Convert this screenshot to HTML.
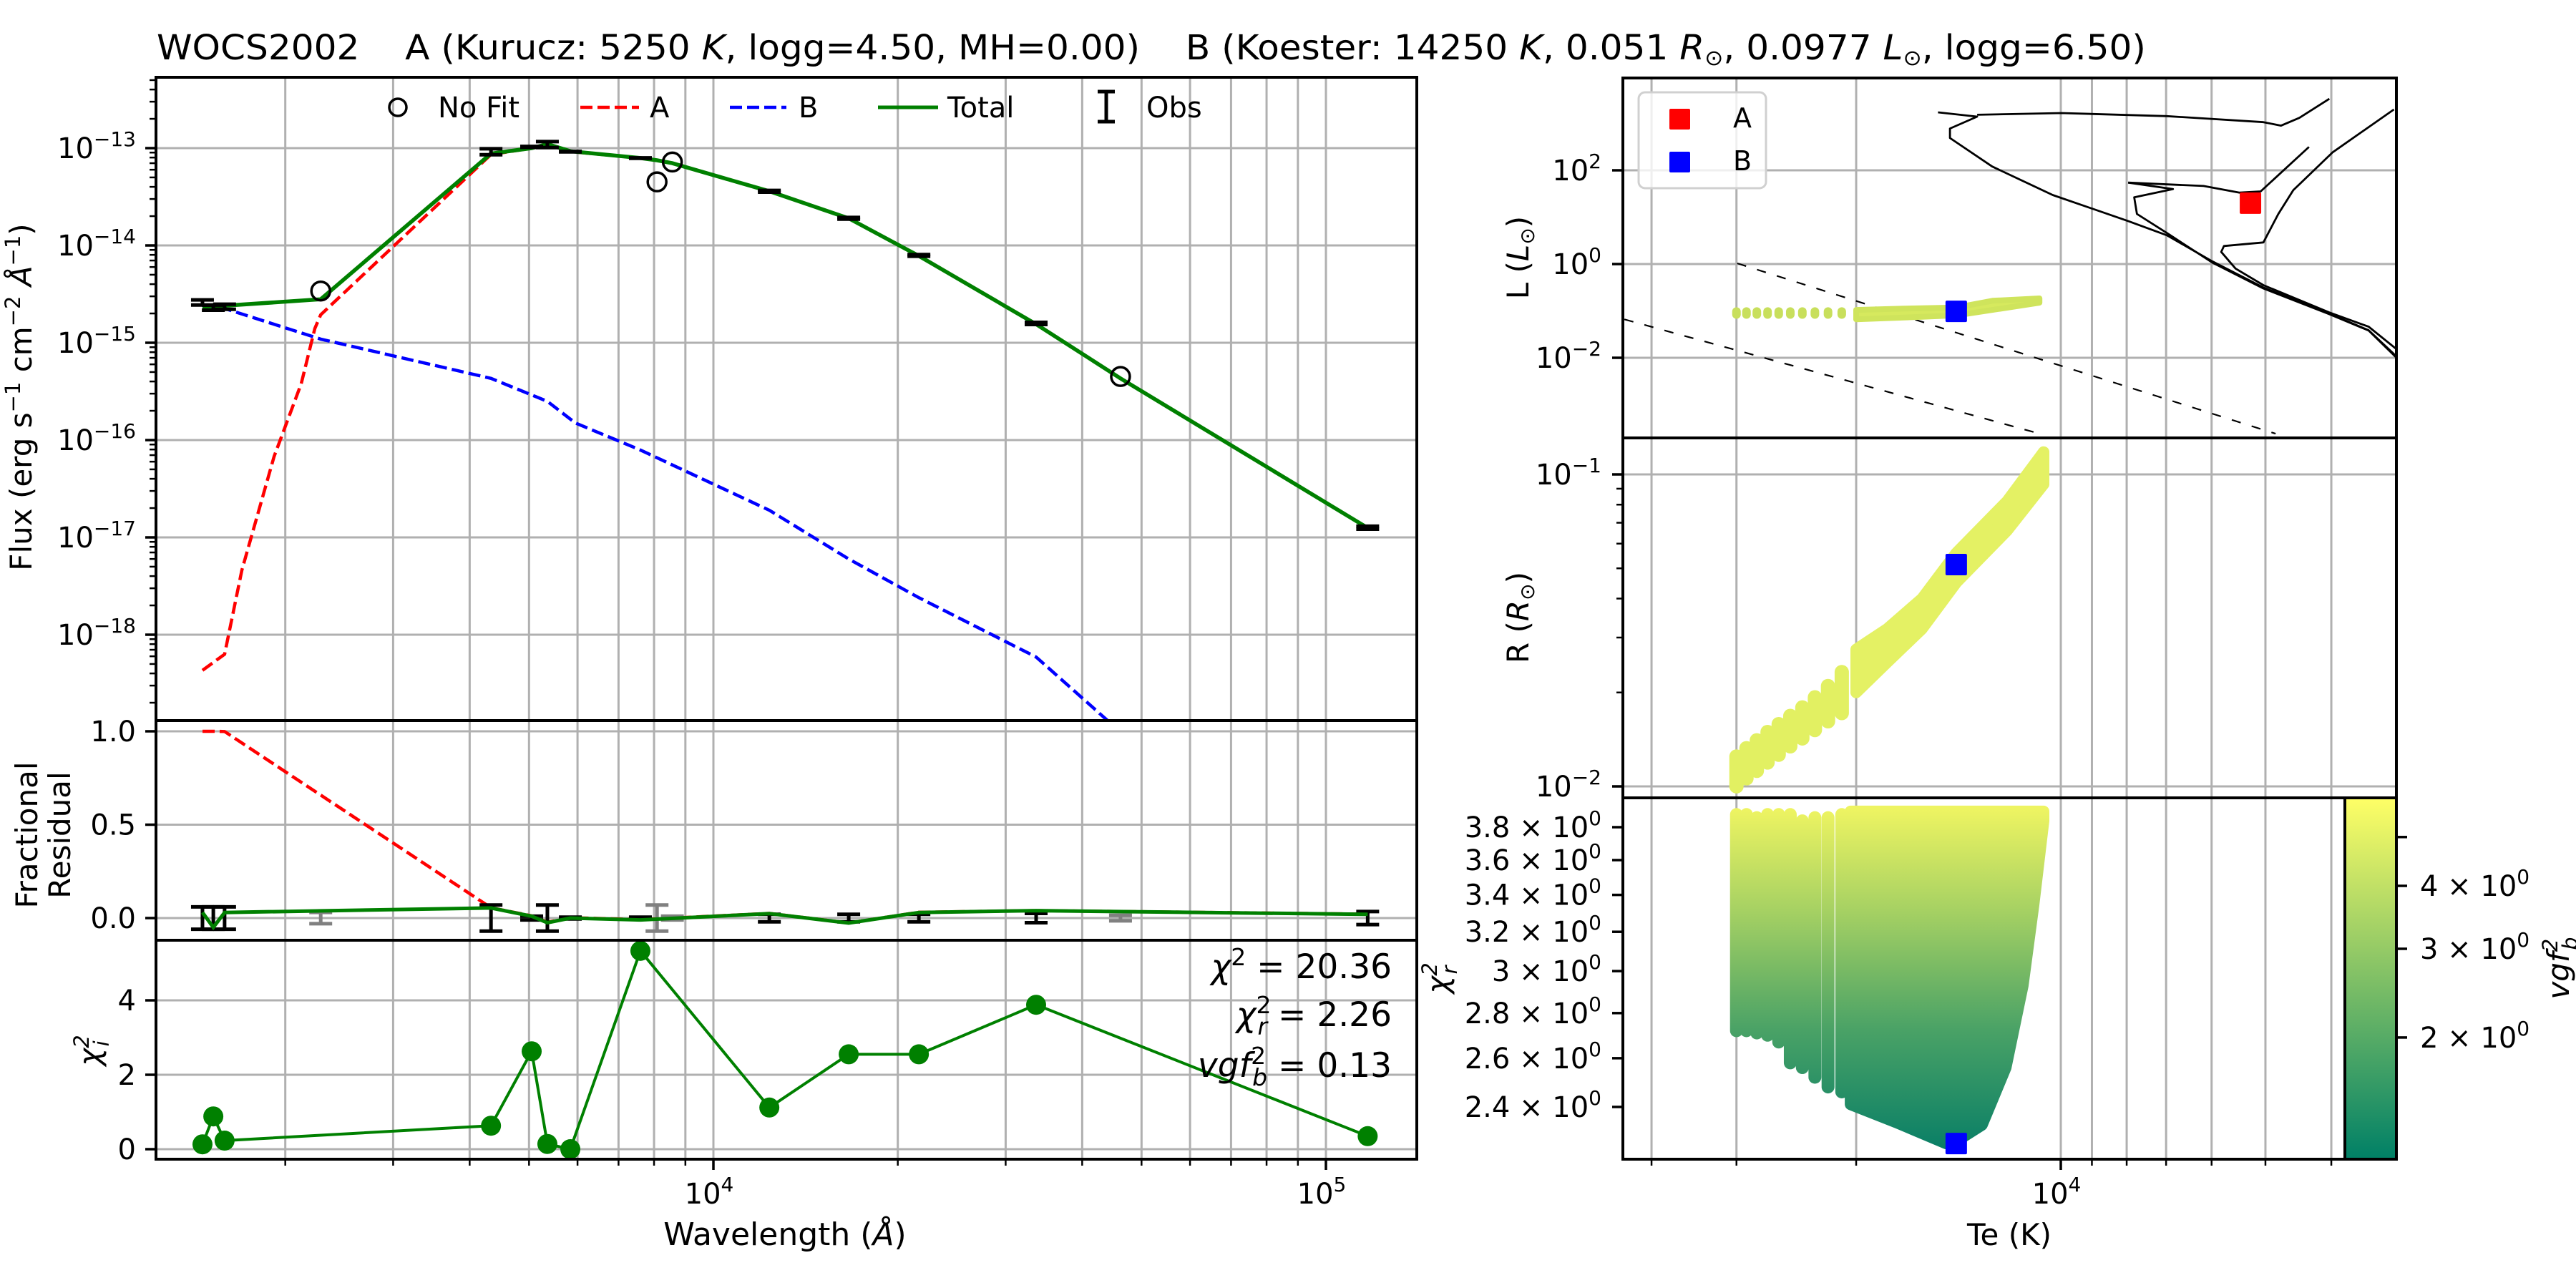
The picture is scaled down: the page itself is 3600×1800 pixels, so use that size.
<!DOCTYPE html>
<html><head><meta charset="utf-8"><title>WOCS2002 SED fit</title>
<style>
html,body{margin:0;padding:0;background:#fff;}
svg{display:block;font-family:"DejaVu Sans","Liberation Sans",sans-serif;}
text{fill:#000;}
</style></head>
<body>
<svg id="fig" width="3600" height="1800" viewBox="0 0 3600 1800" xmlns="http://www.w3.org/2000/svg">
<defs>
<clipPath id="cTop"><rect x="218" y="108" width="1762" height="899"/></clipPath>
<clipPath id="cRes"><rect x="218" y="1007" width="1762" height="307"/></clipPath>
<clipPath id="cChi"><rect x="218" y="1314" width="1762" height="306"/></clipPath>
<clipPath id="cL"><rect x="2268" y="109" width="1081" height="503"/></clipPath>
<clipPath id="cR"><rect x="2268" y="612" width="1081" height="503"/></clipPath>
<clipPath id="cC"><rect x="2268" y="1115" width="1008" height="505"/></clipPath>
<linearGradient id="cmapV" x1="0" y1="1" x2="0" y2="0">
<stop offset="0" stop-color="#008066"/><stop offset="0.5" stop-color="#80c066"/><stop offset="1" stop-color="#ffff66"/>
</linearGradient>
<linearGradient id="chiGrad" gradientUnits="userSpaceOnUse" x1="0" y1="1605" x2="0" y2="1130">
<stop offset="0" stop-color="#0a7f66"/><stop offset="0.35" stop-color="#4aa266"/><stop offset="0.7" stop-color="#a6d163"/><stop offset="1" stop-color="#eef462"/>
</linearGradient>
</defs>
<text x="219" y="83" font-size="48" style="white-space:pre" xml:space="preserve" textLength="2780" lengthAdjust="spacingAndGlyphs">WOCS2002    A (Kurucz: 5250 <tspan font-style="italic">K</tspan>, logg=4.50, MH=0.00)    B (Koester: 14250 <tspan font-style="italic">K</tspan>, 0.051 <tspan font-style="italic">R</tspan><tspan font-size="30" dy="8">⊙</tspan><tspan dy="-8">, 0.0977 </tspan><tspan font-style="italic">L</tspan><tspan font-size="30" dy="8">⊙</tspan><tspan dy="-8">, logg=6.50)</tspan></text>
</svg>
<script>
// ===== SED data (left panels) =====
const obsWave = [1465,1526,1592,4334,5050,5357,5840,7600,12340,16630,21650,33640,117000];
const obsFlux = [2.6e-15,2.3e-15,2.35e-15,9.2e-14,1.03e-13,1.09e-13,9.2e-14,7.9e-14,3.6e-14,1.9e-14,7.9e-15,1.58e-15,1.26e-17];
const obsErr = [0.06,0.06,0.06,0.07,0.01,0.07,0.005,0.005,0.02,0.02,0.02,0.025,0.035];
const noFitWave = [2285,8090,8570,46200];
const noFitFlux = [3.4e-15,4.5e-14,7.2e-14,4.5e-16];
const noFitErr = [0.03,0.07,0.01,0.015];
const totWave = [1465,1526,1592,2285,4334,5050,5357,5840,7600,8090,8570,12340,16630,21650,33640,46200,117000];
const totFlux = [2.35e-15,2.37e-15,2.4e-15,2.8e-15,8.8e-14,1.0e-13,1.1e-13,9.3e-14,7.9e-14,7.5e-14,7.0e-14,3.6e-14,1.9e-14,7.8e-15,1.55e-15,4.3e-16,1.25e-17];
const aWave = [1465,1592,1699,1918,2124,2235,2285,4334,5050,5357,5840,7600,8090,8570,12340,16630,21650,33640,46200,117000];
const aFlux = [4.3e-19,6.3e-19,4.6e-18,6.8e-17,3.8e-16,1.4e-15,1.94e-15,8.6e-14,1.0e-13,1.09e-13,9.2e-14,7.9e-14,7.5e-14,7.0e-14,3.6e-14,1.9e-14,7.8e-15,1.55e-15,4.3e-16,1.25e-17];
const bWave = [1465,1592,2285,4334,5357,5950,7600,12340,16630,21650,33640,46200,117000];
const bFlux = [2.4e-15,2.25e-15,1.09e-15,4.3e-16,2.5e-16,1.5e-16,7.9e-17,1.9e-17,6.0e-18,2.4e-18,5.9e-19,1.0e-19,4e-21];
const resTotal = [0.03,-0.05,0.03,0.054,0.01,-0.025,0.0,-0.01,0.024,-0.027,0.03,0.04,0.02];
const resA = [1.0,1.0,0.999,0.055,0.012,-0.022,0.002,-0.008,0.025,-0.026,0.031,0.04,0.021];
const chiVals = [0.13,0.88,0.23,0.63,2.63,0.14,0.0,5.33,1.12,2.55,2.55,3.88,0.35];
const fluxTickExp = [-13,-14,-15,-16,-17,-18];
const resTicks = [1.0,0.5,0.0];
const resTickLabels = ['1.0','0.5','0.0'];
const chiTicks = [0,2,4];
const waveMajor = [1e4,1e5];
const waveMajorExp = ['4','5'];
const waveMinor = [2000,3000,4000,5000,6000,7000,8000,9000,20000,30000,40000,50000,60000,70000,80000,90000];

// ===== HR / fit data (right panels) =====
const teGrid = [40000,30000,20000,10000,9000,8000,7000,6000,5000,4000];
const lTickExp = [2,0,-2];
const rTickExp = [-1,-2];
const rMinor = [0.02,0.03,0.04,0.05,0.06,0.07,0.08,0.09];
const chiRTicks = [2.4,2.6,2.8,3.0,3.2,3.4,3.6,3.8];
const chiRTickLabels = ['2.4','2.6','2.8','3','3.2','3.4','3.6','3.8'];
const cbTicks = [2,3,4,5];
const cbTickLabels = ['2','3','4',''];
const colT = [30000,29000,28000,27000,26000,25000,24000,23000,22000,21000];
const colChiLo = [2.72,2.72,2.71,2.70,2.67,2.58,2.56,2.52,2.48,2.46];
const colChiHi = [3.88,3.88,3.86,3.88,3.88,3.88,3.84,3.86,3.86,3.88];
const colRLo = [0.0099,0.0105,0.0111,0.0118,0.0125,0.0133,0.0141,0.0150,0.0160,0.0170];
const colRHi = [0.0126,0.0134,0.0142,0.0151,0.0160,0.0170,0.0181,0.0195,0.0212,0.0235];
const colLLo = [0.068,0.068,0.068,0.068,0.068,0.068,0.068,0.068,0.068,0.068];
const colLHi = [0.12,0.12,0.12,0.12,0.12,0.12,0.12,0.12,0.12,0.12];
const bandT = [20000,17000,14250,12600,10750];
const bandLLo = [0.066,0.072,0.080,0.105,0.150];
const bandLHi = [0.105,0.112,0.118,0.165,0.185];
const bandRT = [20000,18000,16000,14250,12000,10600];
const bandRLo = [0.020,0.025,0.032,0.045,0.066,0.093];
const bandRHi = [0.0275,0.032,0.040,0.056,0.082,0.118];
const chiBandT = [20390,17470,14740,14320,13060,12050,11370,10960,10600];
const chiBandLo = [2.41,2.34,2.26,2.265,2.33,2.56,2.93,3.35,3.84];
const chiBandTopT = [20390,10600];
const chiBandTop = [3.90,3.90];
const starA = {T:5260, L:19.95};
const starB = {T:14250, L:0.0977, R:0.0514, chi:2.26};
const iso1LogT = [3.499,3.510,3.547,3.605,3.702,3.777,3.844,3.901,4.012,4.101,4.163,4.163,4.123,4.1806];
const iso1LogL = [-2.12,-1.919,-1.413,-1.058,-0.501,0.056,0.613,0.917,1.474,2.081,2.689,2.892,3.145,3.236];
const iso1bLogT = [4.123,3.999,3.844,3.702,3.676,3.649,3.605];
const iso1bLogL = [3.185,3.221,3.155,3.028,2.952,3.119,3.525];
const iso2LogT = [3.901,3.835,3.892,3.888,3.844,3.777,3.702,3.605,3.547,3.499];
const iso2LogL = [1.737,1.600,1.423,1.069,0.663,0.03,-0.52,-1.07,-1.42,-2.1];
const iso2bLogT = [3.901,3.790,3.737,3.706,3.635];
const iso2bLogL = [1.737,1.666,1.524,1.550,2.497];
const iso3LogT = [3.510,3.600,3.658,3.680,3.702,3.760,3.764,3.743,3.702,3.605,3.547,3.499];
const iso3LogL = [3.297,2.385,1.575,1.069,0.461,0.385,0.258,-0.096,-0.451,-1.033,-1.337,-1.9];
const radLine1LogT = [4.476,3.684];
const radLine1LogL = [0.015,-3.62];
const radLine2LogT = [4.642,4.036];
const radLine2LogL = [-1.18,-3.60];

// ===== scales =====
const lg = Math.log10;
function lx(w){return 997+856*lg(w/1e4);}
function fy(f){return 207-136*(lg(f)+13);}
function ry(r){return 1283-261*r;}
function cy(c){return 1606-52*c;}
function tx(T){return 2880-950*lg(T/1e4);}
function txLog(t){return 2880-950*(t-4);}
function Ly(L){return 238-65.5*(lg(L)-2);}
function LyLog(l){return 238-65.5*(l-2);}
function Ry(R){return 663-436*(lg(R)+1);}
function Cy(c){return 1156-1959*(lg(c)-lg(3.8));}
function cby(v){return 1238-704*lg(v/4);}

const NS='http://www.w3.org/2000/svg';
const svg=document.getElementById('fig');
function mk(tag,attrs,parent){const e=document.createElementNS(NS,tag);for(const k in attrs)e.setAttribute(k,attrs[k]);(parent||svg).appendChild(e);return e;}
function grp(name,clip){const g=mk('g',clip?{'clip-path':'url(#'+clip+')'}:{});return g;}
function pow(parent,x,y,base,exp,anchor,fs){
  const t=mk('text',{x:x,y:y,'font-size':fs||40,'text-anchor':anchor||'end'},parent);
  t.appendChild(document.createTextNode(base));
  const s=mk('tspan',{'font-size':Math.round((fs||40)*0.7),dy:-17},t);
  s.textContent=exp;
  return t;
}
const GRID='#b0b0b0';

// ---------- LEFT: grids ----------
const gGrid=grp('left-gridlines');
[...waveMinor,...waveMajor].forEach(w=>{
  const l=mk('line',{x1:lx(w),x2:lx(w),y1:108,y2:1620,stroke:GRID,'stroke-width':3},gGrid);
  
  
});
fluxTickExp.forEach(e=>{
  const l=mk('line',{x1:218,x2:1980,y1:fy(Math.pow(10,e)),y2:fy(Math.pow(10,e)),stroke:GRID,'stroke-width':3},gGrid);
  
  
});
resTicks.forEach(r=>{
  const l=mk('line',{x1:218,x2:1980,y1:ry(r),y2:ry(r),stroke:GRID,'stroke-width':3},gGrid);
  
  
});
chiTicks.forEach(c=>{
  const l=mk('line',{x1:218,x2:1980,y1:cy(c),y2:cy(c),stroke:GRID,'stroke-width':3},gGrid);
  
  
});

// ---------- LEFT: flux panel ----------
const gTop=grp('flux-panel-series','cTop');
function pts(xs,ys,fx,fyy){return xs.map((v,i)=>fx(v).toFixed(1)+','+fyy(ys[i]).toFixed(1)).join(' ');}
const lineA=mk('polyline',{points:pts(aWave,aFlux,lx,fy),fill:'none',stroke:'#ff0000','stroke-width':4.5,'stroke-dasharray':'17,7'},gTop);


const lineB=mk('polyline',{points:pts(bWave,bFlux,lx,fy),fill:'none',stroke:'#0000ff','stroke-width':4.5,'stroke-dasharray':'17,7'},gTop);


const lineT=mk('polyline',{points:pts(totWave,totFlux,lx,fy),fill:'none',stroke:'#008000','stroke-width':5.5},gTop);


obsWave.forEach((w,i)=>{
  const x=lx(w),y1=fy(obsFlux[i]*(1+obsErr[i])),y2=fy(obsFlux[i]*(1-obsErr[i]));
  const g=mk('g',{stroke:'#000','stroke-width':5},gTop);
  
  
  mk('line',{x1:x,x2:x,y1:y1,y2:y2},g);
  mk('line',{x1:x-16,x2:x+16,y1:y1,y2:y1},g);
  mk('line',{x1:x-16,x2:x+16,y1:y2,y2:y2},g);
});
noFitWave.forEach((w,i)=>{
  const c=mk('circle',{cx:lx(w),cy:fy(noFitFlux[i]),r:13,fill:'none',stroke:'#000','stroke-width':3.5},gTop);
  
  
});

// ---------- LEFT: residual panel ----------
const gRes=grp('residual-panel-series','cRes');
const rA=mk('polyline',{points:pts(obsWave,resA,lx,ry),fill:'none',stroke:'#ff0000','stroke-width':4.5,'stroke-dasharray':'17,7'},gRes);


obsWave.forEach((w,i)=>{
  const x=lx(w),y1=ry(obsErr[i]),y2=ry(-obsErr[i]);
  const g=mk('g',{stroke:'#000','stroke-width':5},gRes);
  
  
  mk('line',{x1:x,x2:x,y1:y1,y2:y2},g);
  mk('line',{x1:x-16,x2:x+16,y1:y1,y2:y1},g);
  mk('line',{x1:x-16,x2:x+16,y1:y2,y2:y2},g);
});
noFitWave.forEach((w,i)=>{
  const x=lx(w),y1=ry(noFitErr[i]),y2=ry(-noFitErr[i]);
  const g=mk('g',{stroke:'#808080','stroke-width':5},gRes);
  
  
  mk('line',{x1:x,x2:x,y1:y1,y2:y2},g);
  mk('line',{x1:x-16,x2:x+16,y1:y1,y2:y1},g);
  mk('line',{x1:x-16,x2:x+16,y1:y2,y2:y2},g);
});
const rT=mk('polyline',{points:pts(obsWave,resTotal,lx,ry),fill:'none',stroke:'#008000','stroke-width':5},gRes);



// ---------- LEFT: chi panel ----------
const gChi=grp('chi-panel-series','cChi');
const cl=mk('polyline',{points:pts(obsWave,chiVals,lx,cy),fill:'none',stroke:'#008000','stroke-width':4},gChi);


obsWave.forEach((w,i)=>{
  const c=mk('circle',{cx:lx(w),cy:cy(chiVals[i]),r:14,fill:'#008000'},gChi);
  
  
});

// ---------- LEFT: spines / ticks / labels ----------
const gAx=grp('left-axes');
[[108,1007],[1007,1314],[1314,1620]].forEach(p=>{
  const r=mk('rect',{x:218,y:p[0],width:1762,height:p[1]-p[0],fill:'none',stroke:'#000','stroke-width':4},gAx);
  
  
});
for(let d=-19;d<=-13;d++){for(let m=2;m<=9;m++){const y=fy(m*Math.pow(10,d));if(y>108&&y<1007){
  const t=mk('line',{x1:209,x2:218,y1:y,y2:y,stroke:'#000','stroke-width':2.5},gAx);
  
  
}}}
fluxTickExp.forEach(e=>{
  const y=fy(Math.pow(10,e));
  const t=mk('line',{x1:203,x2:218,y1:y,y2:y,stroke:'#000','stroke-width':3.5},gAx);
  
  
  const lb=pow(gAx,190,y+14,'10','−'+(-e),'end',40);
  
  
});
resTicks.forEach((r,i)=>{
  const y=ry(r);
  const t=mk('line',{x1:203,x2:218,y1:y,y2:y,stroke:'#000','stroke-width':3.5},gAx);
  
  
  const lb=mk('text',{x:190,y:y+14,'font-size':40,'text-anchor':'end'},gAx);
  lb.textContent=resTickLabels[i];
  
  
});
chiTicks.forEach(c=>{
  const y=cy(c);
  const t=mk('line',{x1:203,x2:218,y1:y,y2:y,stroke:'#000','stroke-width':3.5},gAx);
  
  
  const lb=mk('text',{x:190,y:y+14,'font-size':40,'text-anchor':'end'},gAx);
  lb.textContent=String(c);
  
  
});
waveMinor.forEach(w=>{
  const t=mk('line',{x1:lx(w),x2:lx(w),y1:1620,y2:1629,stroke:'#000','stroke-width':2.5},gAx);
  
  
});
waveMajor.forEach((w,i)=>{
  const t=mk('line',{x1:lx(w),x2:lx(w),y1:1620,y2:1635,stroke:'#000','stroke-width':3.5},gAx);
  
  
  const lb=pow(gAx,lx(w)-6,1682,'10',waveMajorExp[i],'middle',40);
  
  
});
</script>
<script>
// static labels (left)
(function(){
const svg=document.getElementById('fig');
svg.insertAdjacentHTML('beforeend',`
<text x="1097" y="1740" font-size="44" text-anchor="middle">Wavelength (<tspan font-style="italic">Å</tspan>)</text>
<text transform="translate(44,555) rotate(-90)" font-size="42" text-anchor="middle">Flux (erg s<tspan font-size="29" dy="-16">−1</tspan><tspan dy="16"> cm</tspan><tspan font-size="29" dy="-16">−2</tspan><tspan dy="16"> </tspan><tspan font-style="italic">Å</tspan><tspan font-size="29" dy="-16">−1</tspan><tspan dy="16">)</tspan></text>
<text transform="translate(52,1167) rotate(-90)" font-size="42" text-anchor="middle">Fractional</text>
<text transform="translate(98,1167) rotate(-90)" font-size="42" text-anchor="middle">Residual</text>
<text transform="translate(140,1468) rotate(-90)" font-size="42" text-anchor="middle" font-style="italic">χ<tspan font-size="29" dy="-16">2</tspan><tspan font-size="29" dx="-16" dy="28">i</tspan></text>
<text x="1945" y="1367" font-size="47" text-anchor="end"><tspan font-style="italic">χ</tspan><tspan font-size="33" dy="-18">2</tspan><tspan dy="18"> = 20.36</tspan></text>
<text x="1945" y="1434" font-size="47" text-anchor="end"><tspan font-style="italic">χ</tspan><tspan font-size="33" dy="-18">2</tspan><tspan font-size="33" font-style="italic" dx="-19" dy="30">r</tspan><tspan dy="-12"> = 2.26</tspan></text>
<text x="1945" y="1505" font-size="47" text-anchor="end"><tspan font-style="italic">vgf</tspan><tspan font-size="33" dy="-18">2</tspan><tspan font-size="33" font-style="italic" dx="-19" dy="30">b</tspan><tspan dy="-12"> = 0.13</tspan></text>
<g>
 <circle cx="556" cy="150" r="12" fill="none" stroke="#000" stroke-width="3.5"/>
 <text x="612" y="164" font-size="40">No Fit</text>
 <line x1="811" x2="893" y1="150" y2="150" stroke="#f00" stroke-width="4.5" stroke-dasharray="17,7"/>
 <text x="908" y="164" font-size="40">A</text>
 <line x1="1020" x2="1099" y1="150" y2="150" stroke="#00f" stroke-width="4.5" stroke-dasharray="17,7"/>
 <text x="1116" y="164" font-size="40">B</text>
 <line x1="1227" x2="1311" y1="150" y2="150" stroke="#008000" stroke-width="5"/>
 <text x="1324" y="164" font-size="40">Total</text>
 <g stroke="#000" stroke-width="5"><line x1="1546" x2="1546" y1="128" y2="170"/><line x1="1534" x2="1558" y1="128" y2="128"/><line x1="1534" x2="1558" y1="170" y2="170"/></g>
 <text x="1602" y="164" font-size="40">Obs</text>
</g>`);
})();
</script>
<script>
// ---------- RIGHT panels ----------
(function(){
const svg=document.getElementById('fig');
const NS='http://www.w3.org/2000/svg';
function mk(tag,attrs,parent){const e=document.createElementNS(NS,tag);for(const k in attrs)e.setAttribute(k,attrs[k]);(parent||svg).appendChild(e);return e;}
function grp(name,clip){const g=mk('g',clip?{'clip-path':'url(#'+clip+')'}:{});return g;}
function pow(parent,x,y,pre,exp,anchor,fs){const t=mk('text',{x:x,y:y,'font-size':fs,'text-anchor':anchor},parent);t.appendChild(document.createTextNode(pre));const s=mk('tspan',{'font-size':Math.round(fs*0.7),dy:-17},t);s.textContent=exp;return t;}
const GRID='#b0b0b0';
const gG=grp('right-gridlines');
teGrid.forEach(T=>{
  const x=tx(T);
  const l=mk('line',{x1:x,x2:x,y1:109,y2:1620,stroke:GRID,'stroke-width':3},gG);
  
  
});
lTickExp.forEach(e=>{
  const y=Ly(Math.pow(10,e));
  const l=mk('line',{x1:2268,x2:3349,y1:y,y2:y,stroke:GRID,'stroke-width':3},gG);
  
  
});
rTickExp.forEach(e=>{
  const y=Ry(Math.pow(10,e));
  const l=mk('line',{x1:2268,x2:3349,y1:y,y2:y,stroke:GRID,'stroke-width':3},gG);
  
  
});

// L panel
const gL=grp('hr-panel-series','cL');
function poly(lt,ll,dash,g,name){
  const p=mk('polyline',{points:lt.map((t,i)=>txLog(t).toFixed(1)+','+LyLog(ll[i]).toFixed(1)).join(' '),fill:'none',stroke:'#000','stroke-width':dash?2.2:2.8,'stroke-dasharray':dash?'13,16':'none','stroke-linejoin':'round'},g);
  
  
}
poly(radLine1LogT,radLine1LogL,true,gL,'constant-radius-line');
poly(radLine2LogT,radLine2LogL,true,gL,'constant-radius-line');
poly(iso1LogT,iso1LogL,false,gL,'isochrone-track');
poly(iso1bLogT,iso1bLogL,false,gL,'isochrone-track');
poly(iso2LogT,iso2LogL,false,gL,'isochrone-track');
poly(iso2bLogT,iso2bLogL,false,gL,'isochrone-track');
poly(iso3LogT,iso3LogL,false,gL,'isochrone-track');
colT.forEach((T,i)=>{
  const x=tx(T),y1=Ly(colLHi[i]),y2=Ly(colLLo[i]);
  const r=mk('rect',{x:x-6,y:y1,width:12,height:y2-y1,rx:6,fill:'#c8df5c'},gL);
  
  
});
const bandLpts=bandT.map((T,i)=>tx(T).toFixed(1)+','+Ly(bandLHi[i]).toFixed(1)).concat(bandT.slice().reverse().map((T,j)=>{const i=bandT.length-1-j;return tx(T).toFixed(1)+','+Ly(bandLLo[i]).toFixed(1);}));
const bL=mk('polygon',{points:bandLpts.join(' '),fill:'#d6e95e','stroke':'#cfe45c','stroke-width':8,'stroke-linejoin':'round'},gL);


const sqA=mk('rect',{x:tx(starA.T)-15,y:Ly(starA.L)-15,width:30,height:30,rx:2,fill:'#ff0000'},gL);


const sqBL=mk('rect',{x:tx(starB.T)-15,y:Ly(starB.L)-15,width:30,height:30,rx:2,fill:'#0000ff'},gL);



// R panel
const gR=grp('radius-panel-series','cR');
colT.forEach((T,i)=>{
  const x=tx(T),y1=Ry(colRHi[i]),y2=Ry(colRLo[i]);
  const r=mk('rect',{x:x-10,y:y1-8,width:20,height:y2-y1+16,rx:10,fill:'#e2f062'},gR);
  
  
});
const bandRpts=bandRT.map((T,i)=>tx(T).toFixed(1)+','+Ry(bandRHi[i]).toFixed(1)).concat(bandRT.slice().reverse().map((T,j)=>{const i=bandRT.length-1-j;return tx(T).toFixed(1)+','+Ry(bandRLo[i]).toFixed(1);}));
const bR=mk('polygon',{points:bandRpts.join(' '),fill:'#e4f164',stroke:'#e4f164','stroke-width':16,'stroke-linejoin':'round'},gR);


const sqBR=mk('rect',{x:tx(starB.T)-15,y:Ry(starB.R)-15,width:30,height:30,rx:2,fill:'#0000ff'},gR);



// chi_r panel
const gC=grp('chi-r-panel-series','cC');
colT.forEach((T,i)=>{
  const x=tx(T),y1=Cy(colChiHi[i]),y2=Cy(colChiLo[i]);
  const r=mk('rect',{x:x-9,y:y1-9,width:18,height:y2-y1+18,rx:9,fill:'url(#chiGrad)'},gC);
  
  
});
const cpts=chiBandTopT.map((T,i)=>tx(T).toFixed(1)+','+Cy(chiBandTop[i]).toFixed(1)).concat(chiBandT.slice().reverse().map((T,j)=>{const i=chiBandT.length-1-j;return tx(T).toFixed(1)+','+Cy(chiBandLo[i]).toFixed(1);}));
const bC=mk('polygon',{points:cpts.join(' '),fill:'url(#chiGrad)',stroke:'url(#chiGrad)','stroke-width':16,'stroke-linejoin':'round'},gC);


const sqBC=mk('rect',{x:tx(starB.T)-15,y:Cy(starB.chi)-15,width:30,height:30,rx:2,fill:'#0000ff'},gC);



// colorbar
const gCB=grp('colorbar');
const cb=mk('rect',{x:3277,y:1115,width:72,height:505,fill:'url(#cmapV)',stroke:'#000','stroke-width':4},gCB);


cbTicks.forEach((v,i)=>{
  const y=cby(v);
  const t=mk('line',{x1:3349,x2:3364,y1:y,y2:y,stroke:'#000','stroke-width':3.5},gCB);
  
  
  if(cbTickLabels[i]){
    const lb=pow(gCB,3382,y+14,cbTickLabels[i]+' × 10','0','start',40);
    
    
  }
});

// axes
const gA=grp('right-axes');
[[109,612,1081],[612,1115,1081],[1115,1620,1009]].forEach(p=>{
  const r=mk('rect',{x:2268,y:p[0],width:p[2],height:p[1]-p[0],fill:'none',stroke:'#000','stroke-width':4},gA);
  
  
});
teGrid.forEach(T=>{
  const x=tx(T);const major=(T===10000);
  const t=mk('line',{x1:x,x2:x,y1:1620,y2:major?1635:1629,stroke:'#000','stroke-width':major?3.5:2.5},gA);
  
  
});
const tl=pow(gA,tx(10000)-6,1682,'10','4','middle',40);


lTickExp.forEach(e=>{
  const y=Ly(Math.pow(10,e));
  const t=mk('line',{x1:2253,x2:2268,y1:y,y2:y,stroke:'#000','stroke-width':3.5},gA);
  
  
  const lb=pow(gA,2238,y+14,'10',(e<0?'−':'')+Math.abs(e),'end',40);
  
  
});
rTickExp.forEach(e=>{
  const y=Ry(Math.pow(10,e));
  const t=mk('line',{x1:2253,x2:2268,y1:y,y2:y,stroke:'#000','stroke-width':3.5},gA);
  
  
  const lb=pow(gA,2238,y+14,'10','−'+Math.abs(e),'end',40);
  
  
});
rMinor.forEach(v=>{
  const y=Ry(v);
  const t=mk('line',{x1:2259,x2:2268,y1:y,y2:y,stroke:'#000','stroke-width':2.5},gA);
  
  
});
chiRTicks.forEach((v,i)=>{
  const y=Cy(v);
  const t=mk('line',{x1:2253,x2:2268,y1:y,y2:y,stroke:'#000','stroke-width':3.5},gA);
  
  
  const lb=pow(gA,2238,y+14,chiRTickLabels[i]+' × 10','0','end',40);
  
  
});
svg.insertAdjacentHTML('beforeend',`
<text x="2808" y="1740" font-size="42" text-anchor="middle">Te (K)</text>
<text transform="translate(2136,360) rotate(-90)" font-size="42" text-anchor="middle">L (<tspan font-style="italic">L</tspan><tspan font-size="28" dy="8">⊙</tspan><tspan dy="-8">)</tspan></text>
<text transform="translate(2136,863) rotate(-90)" font-size="42" text-anchor="middle">R (<tspan font-style="italic">R</tspan><tspan font-size="28" dy="8">⊙</tspan><tspan dy="-8">)</tspan></text>
<text transform="translate(2024,1367) rotate(-90)" font-size="42" text-anchor="middle" font-style="italic">χ<tspan font-size="29" dy="-16">2</tspan><tspan font-size="29" dx="-16" dy="28">r</tspan></text>
<text transform="translate(3590,1353) rotate(-90)" font-size="42" text-anchor="middle" font-style="italic">vgf<tspan font-size="29" dy="-16">2</tspan><tspan font-size="29" dx="-16" dy="28">b</tspan></text>
<g>
 <rect x="2290" y="129" width="178" height="134" rx="9" fill="#fff" fill-opacity="0.8" stroke="#d0d0d0" stroke-width="3"/>
 <rect x="2333" y="152" width="29" height="29" rx="2" fill="#f00"/>
 <text x="2422" y="178" font-size="38">A</text>
 <rect x="2333" y="212" width="29" height="29" rx="2" fill="#00f"/>
 <text x="2422" y="238" font-size="38">B</text>
</g>`);
})();
</script>
</body></html>
